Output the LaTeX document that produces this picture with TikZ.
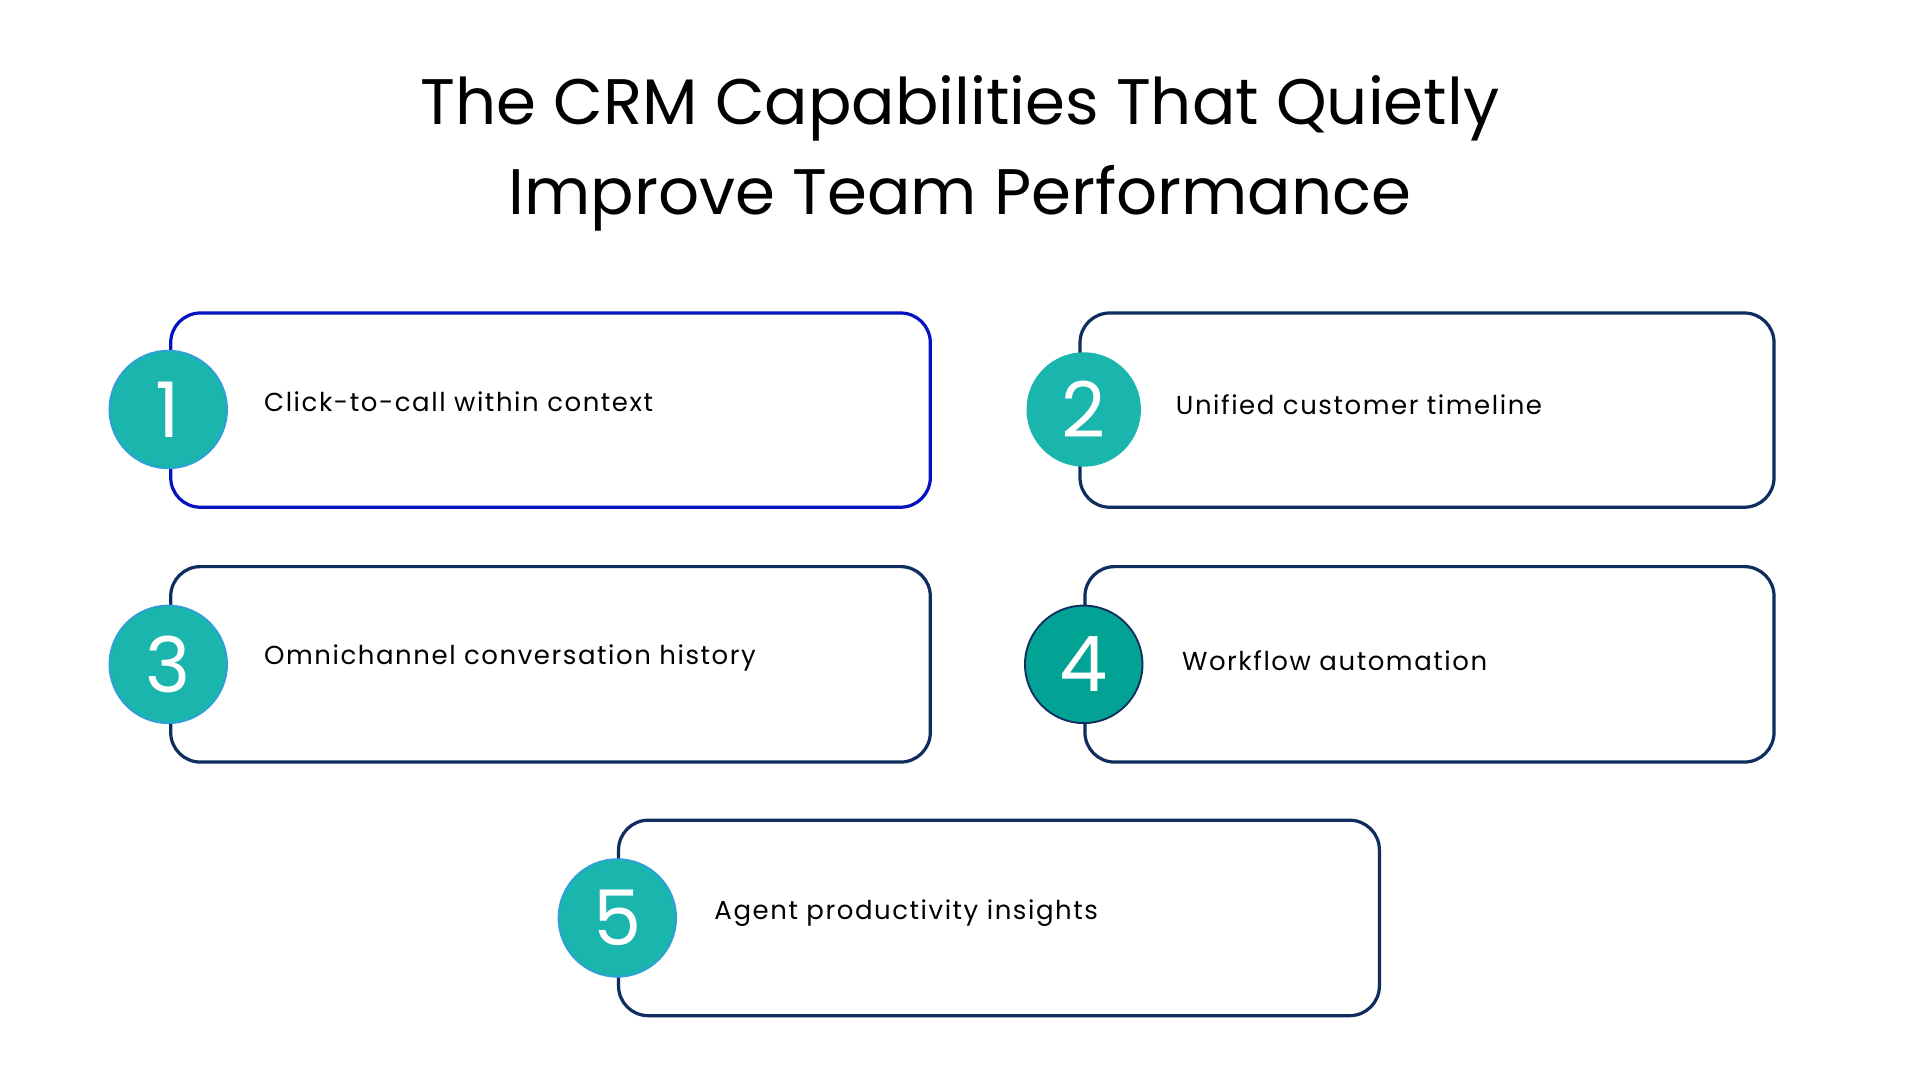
\documentclass[tikz,border=0pt]{standalone}
\usepackage{fontspec}
\setmainfont{Poppins}
\newfontfamily\lbl[LetterSpace=6]{Poppins}
\begin{document}
\begin{tikzpicture}[x=1pt,y=-1pt,
  box/.style={draw=boxc,line width=2.6pt,rounded corners=24pt},
  num/.style={circle,fill=teal1,draw=ring,line width=1.5pt,minimum size=95pt,inner sep=0pt,text=white,font=\fontsize{62}{62}\selectfont},
  lab/.style={anchor=west,font=\lbl\fontsize{21}{24}\selectfont,text=black}]
\definecolor{boxc}{HTML}{0F2D5E}
\definecolor{teal1}{HTML}{1AB5AD}
\definecolor{teal2}{HTML}{02A394}
\definecolor{ring}{HTML}{2E9FD8}
\fill[white] (0,0) rectangle (1552,873);
\useasboundingbox (0,0) rectangle (1552,873);
\node[font=\fontsize{52}{72}\selectfont,align=center] (title) at (776,124) {The CRM Capabilities That Quietly\\Improve Team Performance};
\draw[box,draw=blue!60!boxc] (138,253) rectangle (752,410);
\draw[box] (873,253) rectangle (1434,410);
\draw[box] (138,458) rectangle (752,616);
\draw[box] (877,458) rectangle (1434,616);
\draw[box] (500,663) rectangle (1115,821);
\node[num] (n1) at (136,331) {1};
\node[num,minimum size=91pt,draw=teal1] (n2) at (876,331) {2};
\node[num] (n3) at (136,537) {3};
\node[num,fill=teal2,draw=boxc] (n4) at (876,537) {4};
\node[num] (n5) at (499,742) {5};
\node[lab] (l1) at (210,325) {Click-to-call within context};
\node[lab] (l2) at (947,327) {Unified customer timeline};
\node[lab] (l3) at (210,532) {Omnichannel conversation history};
\node[lab] (l4) at (952,534) {Workflow automation};
\node[lab] (l5) at (574,738) {Agent productivity insights};
\end{tikzpicture}
\end{document}
